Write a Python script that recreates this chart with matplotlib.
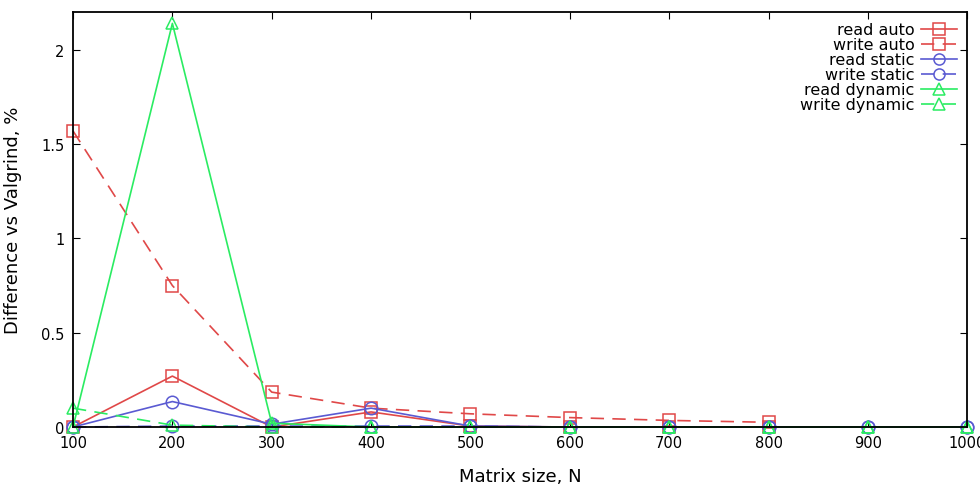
import matplotlib
matplotlib.use("Agg")
from matplotlib import pyplot as plt
from matplotlib.lines import Line2D

# matrix sizes
sizes = [100, 200, 300, 400, 500, 600, 700, 800, 900, 1000]

read_auto = [0.0, 0.27, 0.0, 0.08, 0.005, 0.0, 0.0, 0.0]
write_auto = [1.57, 0.75, 0.185, 0.10, 0.07, 0.05, 0.035, 0.025]
read_static = [0.0, 0.135, 0.015, 0.10, 0.005, 0.0, 0.0, 0.0, 0.0, 0.0]
write_static = [0.0, 0.005, 0.005, 0.005, 0.005, 0.0, 0.0, 0.0, 0.0, 0.0]
read_dynamic = [0.0, 2.14, 0.02, 0.0, 0.0, 0.0, 0.0, 0.0, 0.0, 0.0]
write_dynamic = [0.10, 0.01, 0.0, 0.0, 0.0, 0.0, 0.0, 0.0, 0.0, 0.0]

labels = ["read auto", "write auto", "read static", "write static",
          "read dynamic", "write dynamic"]
y_ticks = [0, 0.5, 1, 1.5, 2]
y_tick_labels = ["0", "0.5", "1", "1.5", "2"]

red = "#e04848"
blue = "#5a5ad2"
green = "#2aec62"

series = [
    (read_auto, red, "s", "-"),
    (write_auto, red, "s", (0, (8, 5))),
    (read_static, blue, "o", "-"),
    (write_static, blue, "o", (0, (8, 5))),
    (read_dynamic, green, "^", "-"),
    (write_dynamic, green, "^", (0, (8, 5))),
]

fig = plt.figure(figsize=(9.8, 4.85), dpi=100)
ax = fig.add_axes([0.0745, 0.1175, 0.9125, 0.8555])

handles = []
for (vals, col, mk, ls), lab in zip(series, labels):
    ax.plot(sizes[:len(vals)], vals, color=col, linestyle=ls, linewidth=1.2,
            marker=mk, markersize=9, markerfacecolor="none",
            markeredgecolor=col, markeredgewidth=1.1, clip_on=False)
    handles.append(Line2D([], [], color=col, linestyle=ls, linewidth=1.2,
                          marker=mk, markersize=8, markerfacecolor="none",
                          markeredgecolor=col, markeredgewidth=1.1))

ax.set_xlim(100, 1000)
ax.set_ylim(0, 2.2)
ax.set_xticks(sizes)
ax.set_yticks(y_ticks)
ax.set_yticklabels(y_tick_labels)
ax.tick_params(direction="in", length=5, labelsize=10.5, top=True, right=True,
               pad=6)
for s in ax.spines.values():
    s.set_linewidth(1.3)

ax.set_xlabel("Matrix size, N", fontsize=13, labelpad=12)
ax.set_ylabel("Difference vs Valgrind, %", fontsize=13, labelpad=14)

leg = ax.legend(handles, labels, loc="upper right", frameon=False,
                markerfirst=False, fontsize=11.5, handlelength=2.3,
                labelspacing=0.0, borderaxespad=0.1, handletextpad=0.4,
                bbox_to_anchor=(0.998, 0.995))

fig.savefig("out.png", dpi=100)
